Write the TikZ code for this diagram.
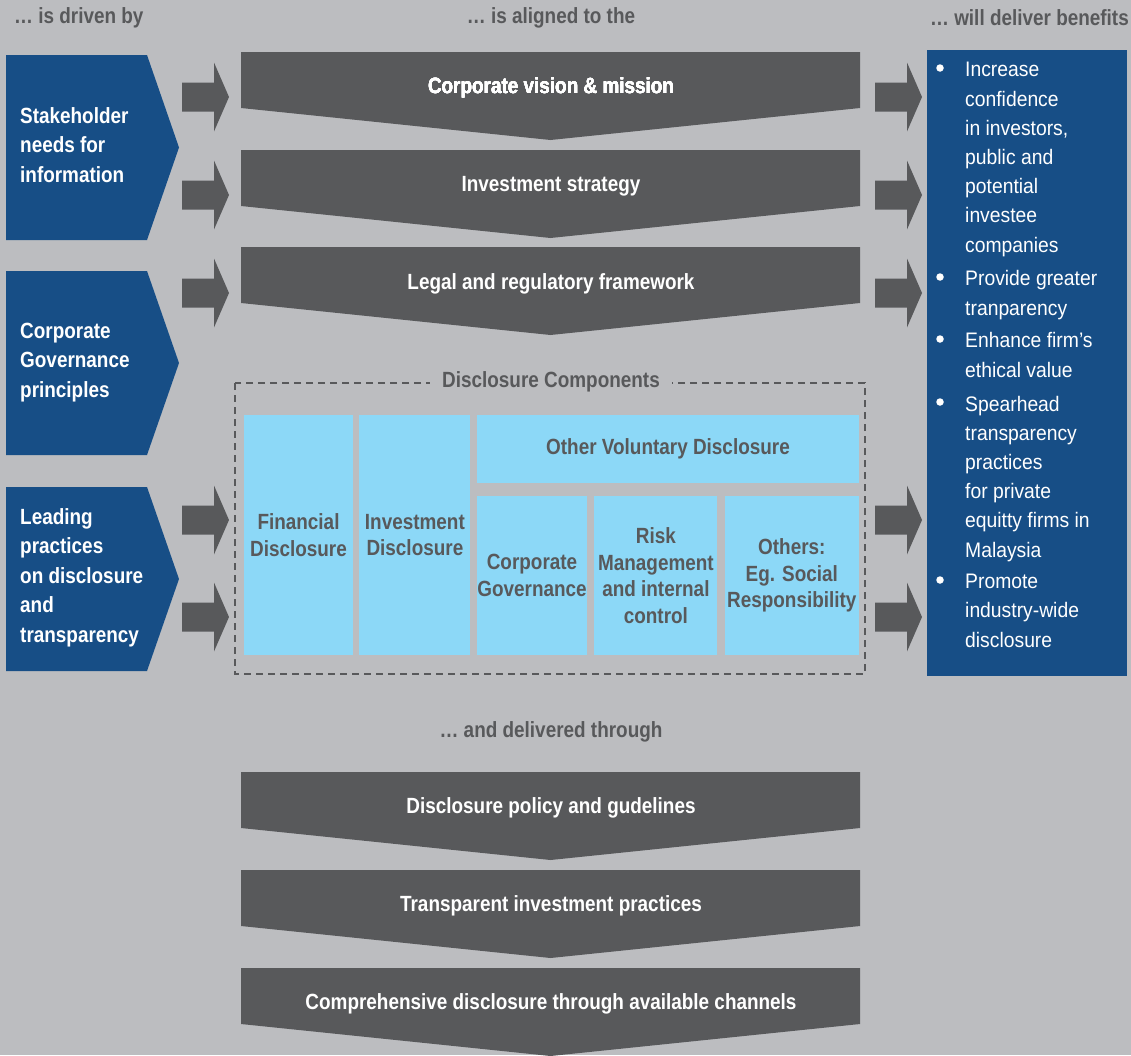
\documentclass[tikz,border=0pt]{standalone}
\usepackage{fontspec}
\setmainfont{Liberation Sans}[FakeStretch=0.86]
\newfontfamily\lightfont{Liberation Sans}[FakeStretch=0.92]
\usetikzlibrary{positioning}

\definecolor{bggray}{HTML}{BCBDC0}
\definecolor{darkgray}{HTML}{58595B}
\definecolor{deepblue}{HTML}{174E86}
\definecolor{skyblue}{HTML}{8CD8F7}

% downward chevron, #1 = top edge
\newcommand\chevbox[1]{%
  \fill[darkgray] (241,#1) -- (860,#1) -- (860,#1+56) -- (550.5,#1+88) -- (241,#1+56) -- cycle;}
% block arrow, #1 = left end, #2 = centre line
\newcommand\blockarrow[2]{%
  \fill[darkgray] (#1,#2-14.5) -- (#1+32,#2-14.5) -- (#1+32,#2-34.5) -- (#1+47,#2)
    -- (#1+32,#2+34.5) -- (#1+32,#2+14.5) -- (#1,#2+14.5) -- cycle;}
% blue tag pointing right, #1 = top, #2 = bottom
\newcommand\bluetag[2]{%
  \fill[deepblue] (6,#1) -- (147,#1) -- (179,{(#1+#2)/2}) -- (147,#2) -- (6,#2) -- cycle;}

\begin{document}
\begin{tikzpicture}[x=1pt,y=-1pt]
\tikzset{header/.style={text=darkgray, inner sep=0, font=\bfseries\fontsize{22}{24}\selectfont}}
\tikzset{chevtext/.style={text=white, inner sep=0, font=\bfseries\fontsize{22}{26}\selectfont}}
\tikzset{tagtext/.style={anchor=base west, align=left, inner sep=0, text=white, font=\bfseries\fontsize{22}{29.5}\selectfont}}
\tikzset{comp/.style={fill=skyblue, inner sep=0, align=center, text=darkgray, font=\bfseries\fontsize{22}{26.5}\selectfont}}
\tikzset{benefit/.style={anchor=base west, align=left, inner sep=0, text=white, font=\lightfont\fontsize{21}{29.2}\selectfont}}
\tikzset{dot/.style={circle, fill=white, minimum size=7.5, inner sep=0}}

\fill[bggray] (0,0) rectangle (1131,1055);
\useasboundingbox (0,0) rectangle (1131,1055);

% column headings
\node[header, anchor=west] (driven) at (14,18) {… is driven by};
\node[header] (aligned) at (551,18) {… is aligned to the};
\node[header, anchor=east] (deliver) at (1129,18) {… will deliver benefits};
\node[header] (through) at (551,732) {… and delivered through};

% drivers (anchored on the last line)
\bluetag{55}{240}
\bluetag{271}{455}
\bluetag{487}{671}
\node[tagtext] (stake) at (20,182) {Stakeholder\\needs for\\information};
\node[tagtext] (govern) at (20,397) {Corporate\\Governance\\principles};
\node[tagtext] (leading) at (20,642) {Leading\\practices\\on disclosure\\and\\transparency};

\foreach \y in {97,195,293,520,617} {
  \blockarrow{182}{\y}
  \blockarrow{875}{\y}
}

% aligned to
\foreach \ty in {52,150,247,772,870,968}
  \chevbox{\ty}
\node[chevtext] (vision) at (551,88) {Corporate vision \& mission};
\node[chevtext] (strategy) at (551,186) {Investment strategy};
\node[chevtext] (legal) at (551,284) {Legal and regulatory framework};
\node[chevtext] (policy) at (551,808) {Disclosure policy and gudelines};
\node[chevtext] (practices) at (551,906) {Transparent investment practices};
\node[chevtext] (channels) at (551,1004) {Comprehensive disclosure through available channels};

% disclosure components
\draw[darkgray, line width=2, dash pattern=on 7 off 5] (235,383) rectangle (865,674);
\node[header, fill=bggray, inner xsep=12, inner ysep=2] (comps) at (551,382) {Disclosure Components};
\node[comp, minimum width=109, minimum height=240] (fin) at (298.5,535) {Financial\\Disclosure};
\node[comp, minimum width=111, minimum height=240, right=6 of fin] (inv) {Investment\\Disclosure};
\node[comp, minimum width=382, minimum height=68] (vol) at (668,449) {Other Voluntary Disclosure};
\node[comp, minimum width=110, minimum height=159] (cg) at (532,575.5) {Corporate\\Governance};
\node[comp, minimum width=123, minimum height=159, right=7 of cg] (risk) {Risk\\Management\\and internal\\control};
\node[comp, minimum width=134, minimum height=159, right=7 of risk] (others) {Others:\\Eg. Social\\Responsibility};

% benefits (anchored on the last line)
\node[fill=deepblue, minimum width=200, minimum height=626, inner sep=0] (benefits) at (1027,363) {};
\foreach \y in {68,277,339,402,580}
  \node[dot] at (940,\y) {};
\node[benefit] (confidence) at (965,252) {Increase\\confidence\\in investors,\\public and\\potential\\investee\\companies};
\node[benefit] (greater) at (965,315) {Provide greater\\tranparency};
\node[benefit] (ethical) at (965,377) {Enhance firm’s\\ethical value};
\node[benefit] (spearhead) at (965,557) {Spearhead\\transparency\\practices\\for private\\equitty firms in\\Malaysia};
\node[benefit] (promote) at (965,647) {Promote\\industry-wide\\disclosure};
\end{tikzpicture}
\end{document}
